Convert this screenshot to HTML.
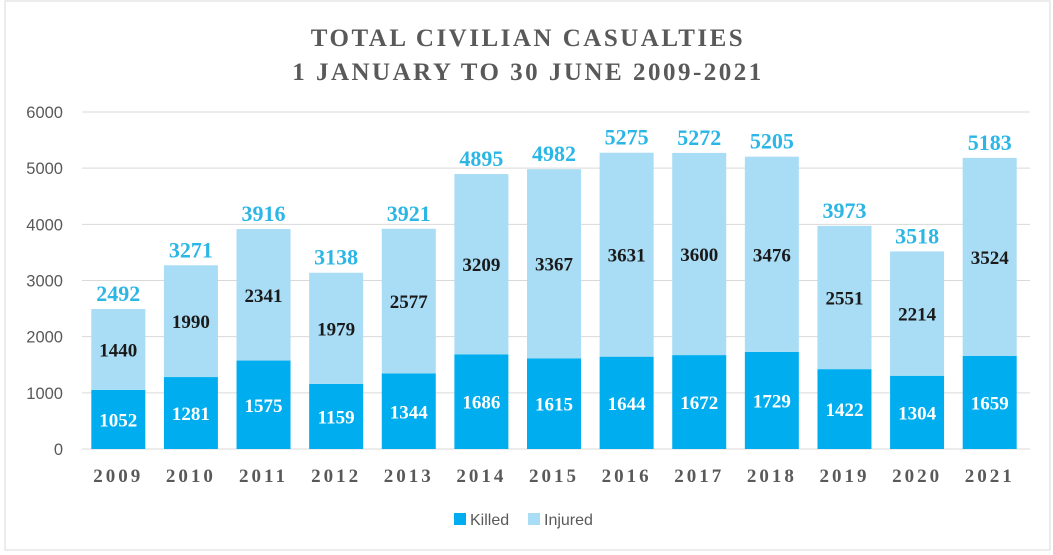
<!DOCTYPE html>
<html><head><meta charset="utf-8"><style>
body{margin:0;background:#fff;}
svg{display:block;}
</style></head><body>
<svg id="chart" width="1053" height="555" xmlns="http://www.w3.org/2000/svg">
<rect x="5" y="1" width="1045" height="549" fill="#fff" stroke="#d9d9d9"/>
<text x="528" y="46" text-anchor="middle" font-family="Liberation Serif, serif" font-weight="bold" font-size="25" fill="#595959" letter-spacing="2.5">TOTAL CIVILIAN CASUALTIES</text>
<text x="528" y="80" text-anchor="middle" font-family="Liberation Serif, serif" font-weight="bold" font-size="25" fill="#595959" letter-spacing="2.5">1 JANUARY TO 30 JUNE 2009-2021</text>
<g id="grid"></g><g id="bars"></g><g id="labels"></g>
<g>
<rect x="454" y="513" width="12" height="12" fill="#00aeef"/>
<text x="470" y="525" font-family="Liberation Sans, sans-serif" font-size="16" fill="#595959">Killed</text>
<rect x="528" y="513" width="12" height="12" fill="#a9dcf5"/>
<text x="544" y="525" font-family="Liberation Sans, sans-serif" font-size="16" fill="#595959">Injured</text>
</g>
</svg>
<script>
const years=["2009","2010","2011","2012","2013","2014","2015","2016","2017","2018","2019","2020","2021"];
const killed=[1052,1281,1575,1159,1344,1686,1615,1644,1672,1729,1422,1304,1659];
const injured=[1440,1990,2341,1979,2577,3209,3367,3631,3600,3476,2551,2214,3524];
const totals=[2492,3271,3916,3138,3921,4895,4982,5275,5272,5205,3973,3518,5183];
const yTicks=[0,1000,2000,3000,4000,5000,6000];
const NS="http://www.w3.org/2000/svg";
const x0=82,x1=1026,yBase=449,yTop=112,yMax=6000;
const band=(x1-x0)/years.length,bw=54;
const y=v=>yBase-(v/yMax)*(yBase-yTop);
const xc=i=>x0+band*(i+0.5);
function mk(tag,attrs,parent,txt){const e=document.createElementNS(NS,tag);for(const k in attrs)e.setAttribute(k,attrs[k]);if(txt!==undefined)e.textContent=txt;document.getElementById(parent).appendChild(e);return e;}
yTicks.forEach(t=>{
 const l=mk('line',{x1:x0,x2:x1+4,y1:y(t),y2:y(t),stroke:'#d9d9d9','stroke-width':1},'grid');
 
 
 const tx=mk('text',{x:63,y:y(t)+6,'text-anchor':'end','font-family':'Liberation Sans, sans-serif','font-size':16.5,fill:'#595959'},'grid',String(t));
 
 
});
years.forEach((yr,i)=>{
 const c=xc(i),k=killed[i],inj=injured[i];
 const bk=mk('rect',{x:c-bw/2,y:y(k),width:bw,height:yBase-y(k),fill:'#00aeef'},'bars');
 
 
 const bi=mk('rect',{x:c-bw/2,y:y(k+inj),width:bw,height:y(k)-y(k+inj),fill:'#a9dcf5'},'bars');
 
 
 const f='Liberation Serif, serif';
 const lk=mk('text',{x:c,y:(y(k)+yBase)/2+7,'text-anchor':'middle','font-family':f,'font-weight':'bold','font-size':19,fill:'#fff'},'labels',String(k));
 
 
 const li=mk('text',{x:c,y:(y(k)+y(k+inj))/2+7,'text-anchor':'middle','font-family':f,'font-weight':'bold','font-size':19,fill:'#1a1a1a'},'labels',String(inj));
 
 
 const lt=mk('text',{x:c,y:y(totals[i])-8,'text-anchor':'middle','font-family':f,'font-weight':'bold','font-size':22,fill:'#2bb6e6'},'labels',String(totals[i]));
 
 
 const lx=mk('text',{x:c,y:482,'text-anchor':'middle','font-family':f,'font-weight':'bold','font-size':19,fill:'#595959','letter-spacing':3},'labels',yr);
 
 
});
</script>
</body></html>
